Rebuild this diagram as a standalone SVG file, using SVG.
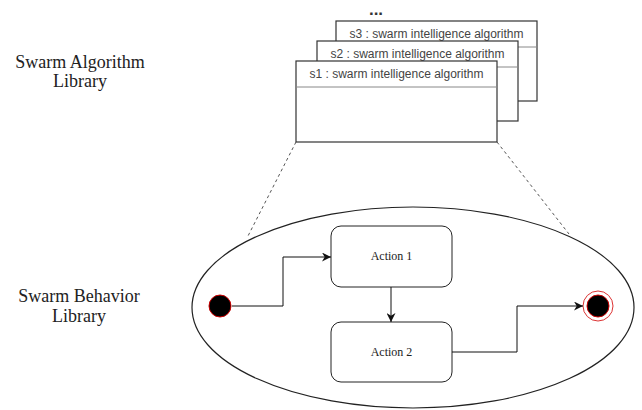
<svg xmlns="http://www.w3.org/2000/svg" width="642" height="410" viewBox="0 0 642 410">
  <style>
    .lbl { font-family: "Liberation Serif", "Times New Roman", serif; font-size: 18px; fill: #222; text-anchor: middle; }
    .act { font-family: "Liberation Serif", "Times New Roman", serif; font-size: 12px; fill: #222; text-anchor: middle; }
    .hdr { font-family: "Liberation Sans", Arial, sans-serif; font-size: 12px; fill: #444; text-anchor: middle; }
    .card { fill: #fff; stroke: #333; stroke-width: 1.2; }
    .div { stroke: #888; stroke-width: 1; }
    .state { fill: #fff; stroke: #222; stroke-width: 1; }
    .edge { fill: none; stroke: #111; stroke-width: 1; }
    .zoomline { fill: none; stroke: #555; stroke-width: 1; stroke-dasharray: 3 3; }
  </style>
  <defs>
    <marker id="arrow" viewBox="0 0 10 10" refX="10" refY="5" markerWidth="9" markerHeight="9" orient="auto" markerUnits="userSpaceOnUse">
      <path d="M0,0 L10,5 L0,10 L3,5 z" fill="#111"/>
    </marker>
  </defs>

  <!-- side labels -->
  <g id="label-algorithm">
    <text class="lbl" x="80" y="68">Swarm Algorithm</text>
    <text class="lbl" x="80" y="87">Library</text>
  </g>
  <g id="label-behavior">
    <text class="lbl" x="79" y="302">Swarm Behavior</text>
    <text class="lbl" x="79" y="322">Library</text>
  </g>

  <!-- stacked algorithm cards -->
  <g id="more">
    <text x="376" y="15" font-family="Liberation Sans, Arial, sans-serif" font-size="17" font-weight="bold" fill="#333" text-anchor="middle">...</text>
  </g>
  <g id="s3">
    <rect class="card" x="336" y="21" width="201" height="80"/>
    <line class="div" x1="336" y1="47" x2="537" y2="47"/>
    <text class="hdr" x="436.5" y="37.5">s3 : swarm intelligence algorithm</text>
  </g>
  <g id="s2">
    <rect class="card" x="317" y="41" width="201" height="80"/>
    <line class="div" x1="317" y1="67" x2="518" y2="67"/>
    <text class="hdr" x="417.5" y="57.5">s2 : swarm intelligence algorithm</text>
  </g>
  <g id="s1">
    <rect class="card" x="296" y="61" width="201" height="81"/>
    <line class="div" x1="296" y1="87" x2="497" y2="87"/>
    <text class="hdr" x="396.5" y="77.5">s1 : swarm intelligence algorithm</text>
  </g>

  <!-- behaviour container -->
  <g id="behavior-library">
    <ellipse cx="413" cy="307.5" rx="221" ry="100.5" fill="#fff" stroke="#222" stroke-width="1.2"/>
  </g>

  <g id="initial">
    <circle cx="220" cy="306" r="11" fill="#000" stroke="#c00" stroke-width="1"/>
  </g>
  <g id="action1">
    <rect class="state" x="331" y="226" width="121" height="61" rx="10"/>
    <text class="act" x="391.5" y="260">Action 1</text>
  </g>
  <g id="action2">
    <rect class="state" x="331" y="322" width="121" height="60" rx="10"/>
    <text class="act" x="391.5" y="356">Action 2</text>
  </g>
  <g id="final">
    <circle cx="598" cy="306" r="15" fill="#fff" stroke="#d33" stroke-width="1"/>
    <circle cx="598" cy="306" r="11" fill="#000" stroke="#c00" stroke-width="1"/>
  </g>

  <!-- connectors -->
  <g id="connectors">
    <path class="zoomline" d="M296,142 L248,236"/>
    <path class="zoomline" d="M497,142 L569,234"/>
    <path class="edge" d="M232,306 H283 V257 H331" marker-end="url(#arrow)"/>
    <path class="edge" d="M391,287 V322" marker-end="url(#arrow)"/>
    <path class="edge" d="M452,352 H517 V306 H583" marker-end="url(#arrow)"/>
  </g>
</svg>
